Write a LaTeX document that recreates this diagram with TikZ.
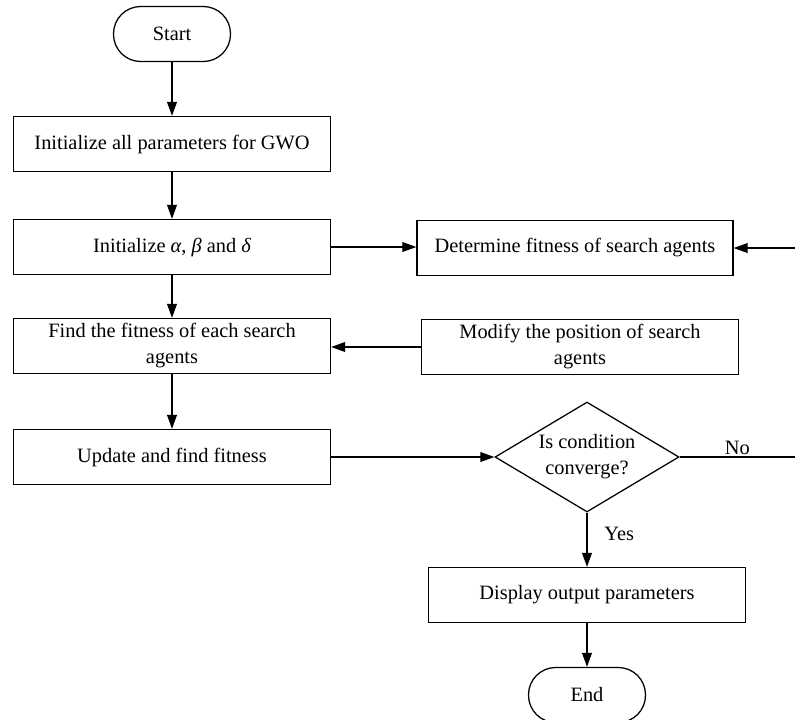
\documentclass[tikz,border=0pt]{standalone}
\usepackage{fontspec}
\setmainfont{Liberation Serif}
\usetikzlibrary{shapes.geometric,arrows.meta}
\begin{document}
\begin{tikzpicture}[
  font=\fontsize{14.5pt}{18.5pt}\selectfont,
  line width=0.9pt,
  >={Triangle[length=10pt,width=7pt]},
  proc/.style={draw,rectangle,minimum width=7.925cm,minimum height=1.375cm,align=center,inner sep=2pt},
  term/.style={draw,rectangle,rounded corners=0.68cm,minimum width=2.925cm,minimum height=1.375cm},
  decide/.style={draw,diamond,aspect=1.67,minimum width=4.6cm,minimum height=2.75cm,align=center,inner sep=1pt}
]
\useasboundingbox (0,0) rectangle (19.875,-18);
% 左の列
\node[term] (start) at (4.3,-0.85) {Start};
\node[proc] (init) at (4.3,-3.6) {Initialize all parameters for GWO};
\node[proc] (initabd) at (4.3,-6.175) {Initialize {\itshape α}, {\itshape β} and {\itshape δ}};
\node[proc] (find) at (4.3,-8.65) {Find the fitness of each search\\agents};
\node[proc] (update) at (4.3,-11.425) {Update and find fitness};
% 右の列
\node[proc,minimum width=7.9cm] (determine) at (14.375,-6.2) {Determine fitness of search agents};
\node[proc] (modify) at (14.5,-8.675) {Modify the position of search\\agents};
\node[decide] (cond) at (14.675,-11.425) {Is condition\\converge?};
\node[proc] (display) at (14.675,-14.875) {Display output parameters};
\node[term] (end) at (14.675,-17.375) {End};
% 右端
\coordinate (inedge) at (19.875,-6.2);
\coordinate (noedge) at (19.875,-11.425);
% 矢印
\draw[->] (start) -- (init);
\draw[->] (init) -- (initabd);
\draw[->] (initabd) -- (find);
\draw[->] (find) -- (update);
\draw[->] (initabd.east) -- (initabd.east -| determine.west);
\draw[->] (inedge) -- (determine.east);
\draw[->] (modify.west) -- (modify.west -| find.east);
\draw[->] (update.east) -- (cond.west);
\draw (cond.east) -- node[above,inner sep=1pt] {No} (noedge);
\draw[->] (cond.south) -- node[right,xshift=0.3cm,pos=0.4] {Yes} (display.north);
\draw[->] (display) -- (end);
\end{tikzpicture}
\end{document}
